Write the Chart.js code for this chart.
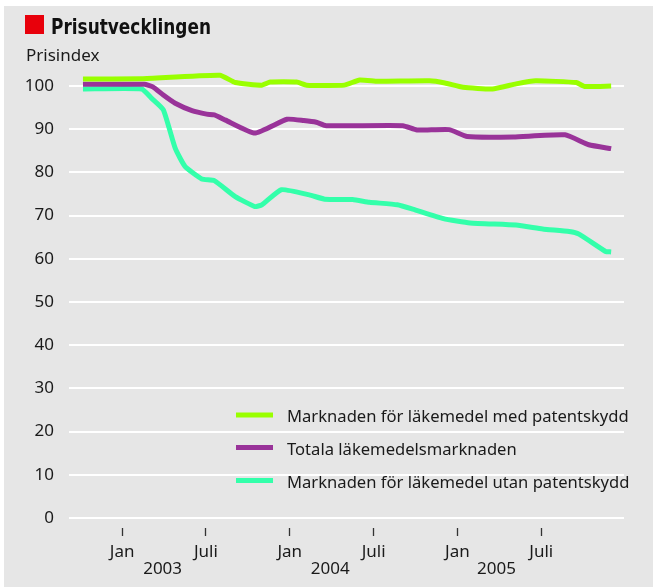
<!DOCTYPE html>
<html>
<head>
<meta charset="utf-8">
<script src="https://cdn.jsdelivr.net/npm/chart.js@4.4.1/dist/chart.umd.min.js"></script>
<style>
  html, body { margin: 0; padding: 0; background: #ffffff; }
  #wrap { width: 653px; height: 587px; }
</style>
</head>
<body>
<div id="wrap"><canvas id="c" width="653" height="587"></canvas></div>
<script>
// ---- data (x = months from Jan 2003) ----
const seriesLabels = [
  'Marknaden för läkemedel med patentskydd',
  'Totala läkemedelsmarknaden',
  'Marknaden för läkemedel utan patentskydd'
];
const seriesColors = ['#99ff00', '#993399', '#33ffaa'];

const patentX = [-2.8, 1.4, 7.0, 8.1, 10.0, 10.6, 12.5, 13.2, 15.9, 17.0, 18.3, 22.0, 23.1, 24.4, 26.5, 28.2, 29.6, 32.5, 33.1, 35.0];
const patentY = [101.6, 101.7, 102.5, 100.8, 100.2, 100.9, 100.9, 100.2, 100.2, 101.4, 101.1, 101.2, 100.7, 99.7, 99.3, 100.5, 101.2, 100.8, 99.9, 100.0];

const totalX = [-2.8, 1.6, 2.2, 2.95, 3.8, 5.0, 6.05, 6.6, 7.4, 9.5, 11.8, 13.0, 13.9, 14.6, 20.1, 21.1, 23.4, 24.7, 28.0, 31.7, 33.4, 35.0];
const totalY = [100.4, 100.4, 99.8, 97.9, 96.0, 94.3, 93.5, 93.3, 92.1, 89.1, 92.3, 92.0, 91.6, 90.8, 90.8, 89.8, 89.9, 88.3, 88.2, 88.7, 86.4, 85.5];

const genericX = [-2.8, 1.4, 2.1, 2.95, 3.8, 4.5, 5.7, 6.6, 8.1, 9.5, 10.0, 11.4, 13.4, 14.5, 16.5, 17.7, 19.7, 20.8, 23.0, 24.9, 28.2, 30.1, 32.0, 32.7, 34.6, 35.0];
const genericY = [99.3, 99.3, 97.2, 94.5, 85.6, 81.4, 78.5, 78.1, 74.4, 72.1, 72.5, 76.0, 74.8, 73.8, 73.7, 73.1, 72.5, 71.5, 69.3, 68.3, 67.8, 66.9, 66.3, 65.7, 61.7, 61.6];

const xTickValues = [0, 2.9, 6, 12, 14.9, 18, 24, 26.8, 30];
const xTickLabels = ['Jan', ['', '2003'], 'Juli', 'Jan', ['', '2004'], 'Juli', 'Jan', ['', '2005'], 'Juli'];
const yTickValues = [0, 10, 20, 30, 40, 50, 60, 70, 80, 90, 100];

const titleText = 'Prisutvecklingen';
const yAxisTitle = 'Prisindex';

// ---- helpers ----
const toPoints = (xs, ys) => xs.map((x, i) => ({ x: x, y: ys[i] }));
const FONT = '"Noto Sans", "Open Sans", sans-serif';
const TEXT = '#1a1a1a';

const backgroundPlugin = {
  id: 'bg',
  beforeDraw(chart) {
    const ctx = chart.ctx;
    ctx.save();
    ctx.fillStyle = '#ffffff';
    ctx.fillRect(0, 0, chart.width, chart.height);
    ctx.fillStyle = '#e6e6e6';
    ctx.fillRect(4, 6, chart.width - 4, chart.height - 6);
    ctx.restore();
  }
};

const headerPlugin = {
  id: 'header',
  afterDraw(chart) {
    const ctx = chart.ctx;
    ctx.save();
    ctx.fillStyle = '#e8000b';
    ctx.fillRect(25, 15, 19, 19);
    ctx.fillStyle = '#111111';
    ctx.font = 'bold 22px "DejaVu Sans", sans-serif';
    ctx.textBaseline = 'alphabetic';
    ctx.textAlign = 'left';
    const w = ctx.measureText(titleText).width;
    const sx = w > 0 ? 160 / w : 1;
    ctx.save();
    ctx.translate(51, 34);
    ctx.scale(sx, 1);
    ctx.fillText(titleText, 0, 0);
    ctx.restore();
    ctx.fillStyle = TEXT;
    ctx.font = '17px ' + FONT;
    ctx.fillText(yAxisTitle, 26, 61);
    ctx.restore();
  }
};

const legendPlugin = {
  id: 'insideLegend',
  afterDraw(chart) {
    const ctx = chart.ctx;
    const rows = [415, 447.5, 480.5];
    ctx.save();
    ctx.font = '16.6px ' + FONT;
    ctx.textBaseline = 'alphabetic';
    ctx.textAlign = 'left';
    chart.data.datasets.forEach((ds, i) => {
      const y = rows[i];
      ctx.strokeStyle = ds.borderColor;
      ctx.lineWidth = 5;
      ctx.lineCap = 'butt';
      ctx.beginPath();
      ctx.moveTo(236, y);
      ctx.lineTo(273, y);
      ctx.stroke();
      ctx.fillStyle = TEXT;
      ctx.fillText(ds.label, 287, y + 7);
    });
    ctx.restore();
  }
};

const datasets = [
  { label: seriesLabels[0], data: toPoints(patentX, patentY), borderColor: seriesColors[0] },
  { label: seriesLabels[1], data: toPoints(totalX, totalY), borderColor: seriesColors[1] },
  { label: seriesLabels[2], data: toPoints(genericX, genericY), borderColor: seriesColors[2] }
].map(d => Object.assign(d, {
  borderWidth: 5,
  pointRadius: 0,
  pointHoverRadius: 0,
  tension: 0.15,
  fill: false,
  clip: false,
  borderCapStyle: 'butt',
  borderJoinStyle: 'round'
}));

new Chart(document.getElementById('c'), {
  type: 'line',
  data: { datasets: datasets },
  options: {
    responsive: false,
    animation: false,
    events: [],
    layout: { padding: { top: 86, right: 29, left: 0, bottom: 0 } },
    plugins: {
      legend: { display: false },
      title: { display: false },
      tooltip: { enabled: false }
    },
    scales: {
      x: {
        type: 'linear',
        min: -3.8,
        max: 35.92,
        border: { display: false },
        grid: {
          display: true,
          drawOnChartArea: false,
          drawTicks: true,
          tickLength: 18,
          tickWidth: 1.3,
          tickBorderDash: [0, 10, 8, 100],
          tickColor: (c) => (c.tick && Number.isInteger(c.tick.value) && c.tick.value % 6 === 0) ? '#333333' : 'rgba(0,0,0,0)'
        },
        afterBuildTicks(scale) {
          scale.ticks = xTickValues.map(v => ({ value: v }));
        },
        afterFit(scale) { scale.height = 69; },
        ticks: {
          autoSkip: false,
          maxRotation: 0,
          minRotation: 0,
          padding: 8,
          color: TEXT,
          font: { family: FONT, size: 17, lineHeight: 1.0 },
          callback: (value, index) => xTickLabels[index]
        }
      },
      y: {
        min: 0,
        max: 100,
        border: { display: false },
        grid: {
          color: '#ffffff',
          lineWidth: 2,
          drawTicks: false
        },
        afterBuildTicks(scale) {
          scale.ticks = yTickValues.map(v => ({ value: v }));
        },
        afterFit(scale) { scale.width = 69; },
        ticks: {
          padding: 15,
          color: TEXT,
          font: { family: FONT, size: 17 },
          callback: (value) => String(value)
        }
      }
    }
  },
  plugins: [backgroundPlugin, headerPlugin, legendPlugin]
});
</script>
</body>
</html>
